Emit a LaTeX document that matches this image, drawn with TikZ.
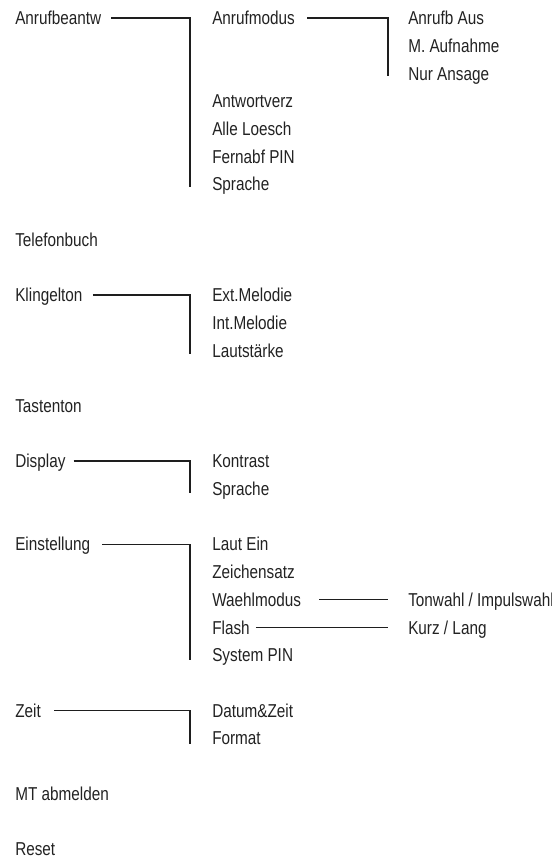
\documentclass[tikz,border=0pt]{standalone}
\usepackage{fontspec}
\usepackage{xcolor}
\usepackage{tikz}
\usetikzlibrary{calc}
\setmainfont{Liberation Sans}[FakeStretch=0.82]
\definecolor{mtext}{HTML}{222222}
\definecolor{mline}{HTML}{1E1E1E}

\begin{document}
\begin{tikzpicture}[x=0.75pt, y=-0.75pt,
    item/.style={anchor=west, inner sep=0pt, text height=10pt, text depth=0pt, text=mtext, font=\fontsize{14pt}{16pt}\selectfont},
    bar/.style={draw=mline, line width=1.1pt}
]
    \useasboundingbox (0,0) rectangle (552,858);

    % Main menu
    \node[item] (anrufbeantw) at (15,18) {Anrufbeantw};
    \node[item] (telefonbuch) at (15,239.6) {Telefonbuch};
    \node[item] (klingelton) at (15,295) {Klingelton};
    \node[item] (tastenton) at (15,405.8) {Tastenton};
    \node[item] (display) at (15,461.2) {Display};
    \node[item] (einstellung) at (15,544.3) {Einstellung};
    \node[item] (zeit) at (15,710.5) {Zeit};
    \node[item] (mtabmelden) at (15,793.6) {MT abmelden};
    \node[item] (reset) at (15,849) {Reset};

    % Anrufbeantw submenu
    \node[item] (anrufmodus) at (212,18) {Anrufmodus};
    \node[item] (antwortverz) at (212,101.1) {Antwortverz};
    \node[item] (alleloesch) at (212,128.8) {Alle Loesch};
    \node[item] (fernabf) at (212,156.5) {Fernabf PIN};
    \node[item] (sprache1) at (212,184.2) {Sprache};
    \node[item] (anrufbaus) at (408,18) {Anrufb Aus};
    \node[item] (maufnahme) at (408,45.7) {M. Aufnahme};
    \node[item] (nuransage) at (408,73.4) {Nur Ansage};

    % Klingelton submenu
    \node[item] (extmelodie) at (212,295) {Ext.Melodie};
    \node[item] (intmelodie) at (212,322.7) {Int.Melodie};
    \node[item] (lautstaerke) at (212,350.4) {Lautstärke};

    % Display submenu
    \node[item] (kontrast) at (212,461.2) {Kontrast};
    \node[item] (sprache2) at (212,488.9) {Sprache};

    % Einstellung submenu
    \node[item] (lautein) at (212,544.3) {Laut Ein};
    \node[item] (zeichensatz) at (212,572) {Zeichensatz};
    \node[item] (waehlmodus) at (212,599.7) {Waehlmodus};
    \node[item] (flash) at (212,627.4) {Flash};
    \node[item] (systempin) at (212,655.1) {System PIN};
    \node[item] (tonwahl) at (408,599.7) {Tonwahl / Impulswahl};
    \node[item] (kurzlang) at (408,627.4) {Kurz / Lang};

    % Zeit submenu
    \node[item] (datumzeit) at (212,710.5) {Datum\&Zeit};
    \node[item] (format) at (212,738.2) {Format};

    % Brackets
    \draw[bar] ($(anrufbeantw.east)+(10,0)$) -| ($(sprache1.west)+(-22,3)$);
    \draw[bar] ($(anrufmodus.east)+(12,0)$) -| ($(nuransage.west)+(-20,3)$);
    \draw[bar] ($(klingelton.east)+(10,0)$) -| ($(lautstaerke.west)+(-22,4)$);
    \draw[bar] ($(display.east)+(8,0)$) -| ($(sprache2.west)+(-22,4)$);
    \draw[bar] ($(einstellung.east)+(12,0)$) -| ($(systempin.west)+(-22,5)$);
    \draw[bar] ($(zeit.east)+(13,0)$) -| ($(format.west)+(-22,6)$);
    \draw[bar] ($(waehlmodus.east)+(18,0)$) -- ($(tonwahl.west)+(-20,0)$);
    \draw[bar] ($(flash.east)+(6,0)$) -- ($(kurzlang.west)+(-20,0)$);

\end{tikzpicture}
\end{document}
